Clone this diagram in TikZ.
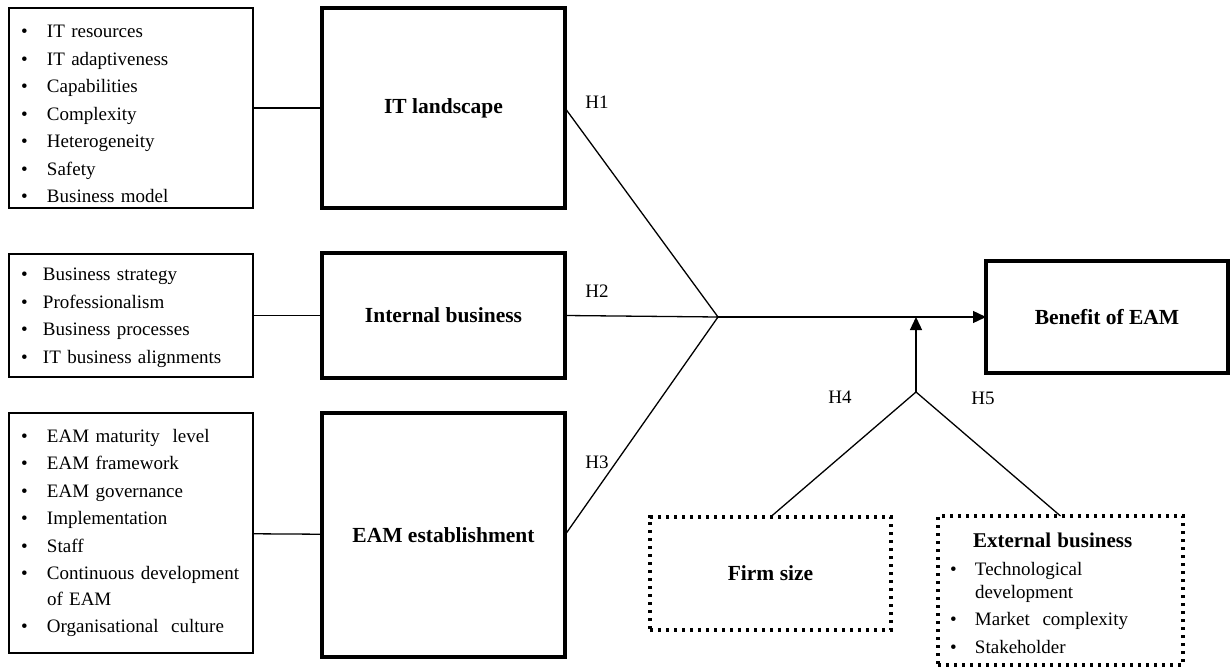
\documentclass[tikz,border=0pt]{standalone}
\usepackage{fontspec}
\setmainfont{Liberation Serif}
\usetikzlibrary{arrows.meta}
\newcommand\bitem[2][26pt]{\makebox[#1][l]{\textbullet}#2}

\begin{document}
\begin{tikzpicture}[x=1pt, y=-1pt, line width=1.3pt, outer sep=0pt,
    listbox/.style={draw, line width=1.3pt, anchor=north west, text width=220pt,
      inner xsep=12pt, align=left, font=\fontsize{19}{27.5}\selectfont},
    bigbox/.style={draw, line width=3.3pt, anchor=north west, minimum width=243pt,
      font=\bfseries\fontsize{21.5}{25}\selectfont},
    dotbox/.style={draw, line width=3.3pt, dash pattern=on 3.3pt off 4.7pt,
      anchor=north west},
    hlabel/.style={font=\fontsize{19}{22}\selectfont, inner sep=0pt}]
  \useasboundingbox (0,0) rectangle (1231,668);
  \node[listbox, minimum height=200] (itlist) at (9,8)
    {\rule{0pt}{25pt}\bitem{IT resources}\\ \bitem{IT adaptiveness}\\ \bitem{Capabilities}\\
     \bitem{Complexity}\\ \bitem{Heterogeneity}\\ \bitem{Safety}\\ \bitem{Business model}};
  \node[listbox, minimum height=123] (iblist) at (9,254)
    {\rule{0pt}{17pt}\bitem[22pt]{Business strategy}\\ \bitem[22pt]{Professionalism}\\
     \bitem[22pt]{Business processes}\\ \bitem[22pt]{IT business alignments}};
  \node[listbox, minimum height=240] (eamlist) at (9,413)
    {\bitem{EAM maturity\ \ level}\\ \bitem{EAM framework}\\ \bitem{EAM governance}\\
     \bitem{Implementation}\\ \bitem{Staff}\\ \bitem{Continuous development}\\[-2pt]
     \hspace*{26pt}of EAM\\ \bitem{Organisational\ \ culture}};
  \node[bigbox, minimum height=200] (it) at (322,8) {IT landscape};
  \node[bigbox, minimum height=125] (ib) at (322,253) {Internal business};
  \node[bigbox, minimum height=244] (eam) at (322,413) {EAM establishment};
  \node[bigbox, minimum width=242pt, minimum height=112] (ben) at (986,261) {Benefit of EAM};
  \node[dotbox, minimum width=241pt, minimum height=113,
    font=\bfseries\fontsize{21.5}{25}\selectfont] (firm) at (650,517) {Firm size};
  \node[dotbox, minimum width=245pt, minimum height=149, text width=221pt,
    inner xsep=12pt, align=left, font=\fontsize{19}{27.5}\selectfont] (ext) at (938,516)
    {\rule{0pt}{20pt}\hspace*{23pt}{\bfseries\fontsize{21}{27.5}\selectfont External business}\\
     \bitem[25pt]{Technological}\\[-4.5pt] \hspace*{25pt}development\\
     \bitem[25pt]{Market\ \ complexity}\\ \bitem[25pt]{Stakeholder}};
  \coordinate (j) at (718,317);
  \coordinate (m) at (916,392);
  \draw (itlist) -- (it);
  \draw (iblist) -- (ib);
  \draw (eamlist) -- (eam);
  \draw (it.east) -- (j) (ib.east) -- (j) (eam.east) -- (j);
  \draw[-{Triangle[length=13pt, width=12pt]}] (j) -- (ben);
  \draw[-{Triangle[length=13pt, width=12pt]}] (m) -- (m |- j);
  \draw (firm.north) -- (m) -- (ext.north);
  \node[hlabel] (h1) at (597,102) {H1};
  \node[hlabel] (h2) at (597,291) {H2};
  \node[hlabel] (h3) at (597,462) {H3};
  \node[hlabel] (h4) at (840,397) {H4};
  \node[hlabel] (h5) at (983,398) {H5};
\end{tikzpicture}
\end{document}
